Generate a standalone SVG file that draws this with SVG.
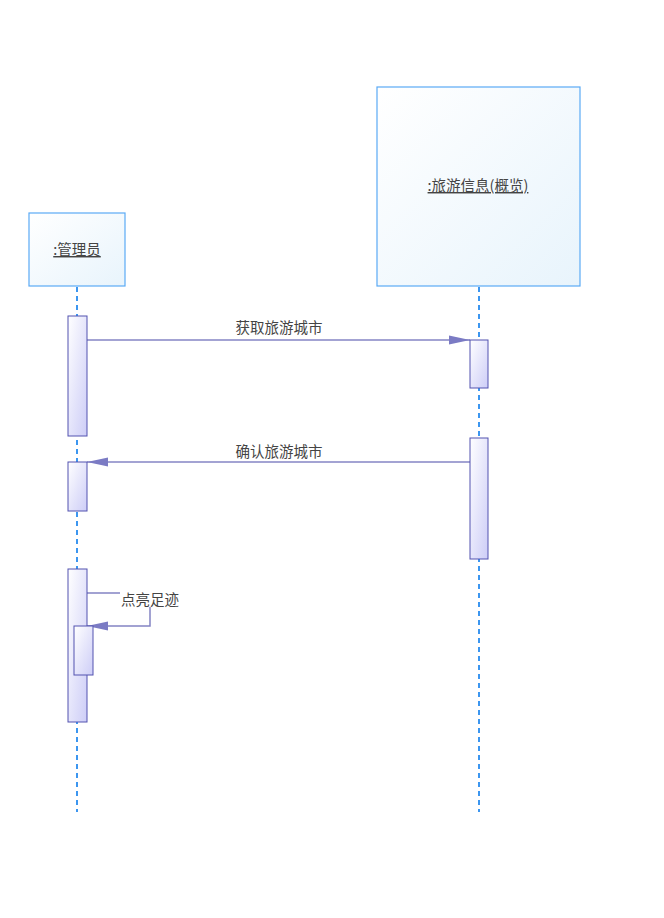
<svg xmlns="http://www.w3.org/2000/svg" width="664" height="918" viewBox="0 0 664 918">
<defs>
<linearGradient id="gObj" x1="0" y1="0" x2="1" y2="1">
<stop offset="0" stop-color="#ffffff"/><stop offset="1" stop-color="#e8f4fc"/>
</linearGradient>
<linearGradient id="gAct" x1="0" y1="0" x2="1" y2="1">
<stop offset="0" stop-color="#ffffff"/><stop offset="1" stop-color="#cdcdf7"/>
</linearGradient>
<marker id="arr" markerWidth="22" markerHeight="10" refX="21" refY="5" orient="auto" markerUnits="userSpaceOnUse">
<path d="M0,0.5 L21,5 L0,9.5 Z" fill="#7b7bc4"/>
</marker>
</defs>
<style>
.obj{fill:url(#gObj);stroke:#5aaaf5;stroke-width:1.2}
.act{fill:url(#gAct);stroke:#5252b0;stroke-width:1}
.life{stroke:#3c96f0;stroke-width:2;stroke-dasharray:5 4;fill:none}
.msg{stroke:#8484c4;stroke-width:1.5;fill:none}
.t{font-family:"Noto Sans CJK SC","Liberation Serif",serif;font-size:14.5px;fill:#444;text-anchor:middle}
.u{text-decoration:underline}
</style>
<rect width="664" height="918" fill="#ffffff"/>
<g id="lifelines">
<line class="life" x1="77" y1="287" x2="77" y2="812"/>
<line class="life" x1="479" y1="287" x2="479" y2="812"/>
</g>
<g id="obj-admin">
<rect class="obj" x="29" y="213" width="96" height="73"/>
<text class="t u" x="77" y="255">:管理员</text>
</g>
<g id="obj-travel">
<rect class="obj" x="377" y="87" width="203" height="199"/>
<text class="t u" x="478" y="191">:旅游信息(概览)</text>
</g>
<g id="connectors">
<g id="m1">
<line class="msg" x1="87" y1="340" x2="470" y2="340" marker-end="url(#arr)"/>
<text class="t" x="279" y="333">获取旅游城市</text>
</g>
<g id="m2">
<line class="msg" x1="470" y1="462" x2="87" y2="462" marker-end="url(#arr)"/>
<text class="t" x="279" y="457">确认旅游城市</text>
</g>
<g id="m3">
<path class="msg" d="M87,593 L150,593 L150,626 L87,626" marker-end="url(#arr)"/>
<rect x="120" y="590" width="61" height="17" fill="#ffffff"/>
<text class="t" x="150" y="605">点亮足迹</text>
</g>
</g>
<g id="activations">
<rect class="act" x="68" y="316" width="19" height="120"/>
<rect class="act" x="470" y="340" width="18" height="48"/>
<rect class="act" x="470" y="438" width="18" height="121"/>
<rect class="act" x="68" y="462" width="19" height="49"/>
<rect class="act" x="68" y="569" width="19" height="153"/>
<rect class="act" x="74" y="626" width="19" height="49"/>
</g>
</svg>
